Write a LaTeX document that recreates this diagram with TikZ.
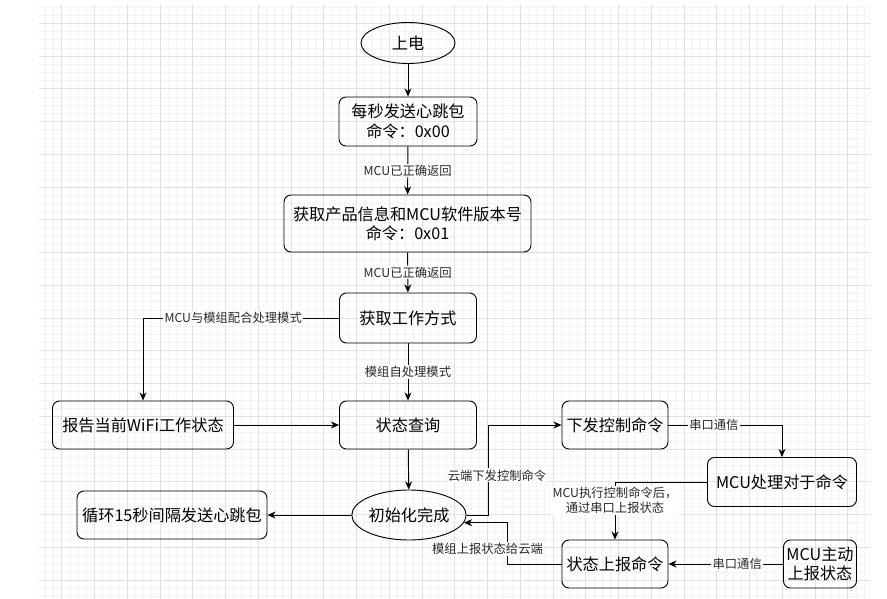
\documentclass[tikz,border=0pt]{standalone}
\usepackage{fontspec}
\setmainfont{Noto Sans CJK SC}
\usetikzlibrary{arrows.meta,calc,shapes.geometric}
\definecolor{GridMajor}{RGB}{224,224,224}
\definecolor{GridMinor}{RGB}{244,244,244}
\definecolor{InkGray}{RGB}{40,40,40}

\tikzset{
  box/.style={draw,rounded corners=6pt,line width=.8pt,align=center,inner sep=1pt,
    font=\fontsize{13.8}{16.5}\selectfont},
  oval/.style={draw,ellipse,line width=.8pt,inner sep=0pt,
    font=\fontsize{13.8}{16.5}\selectfont},
  tag/.style={fill=white,inner sep=1pt,align=center,text=InkGray,
    font=\fontsize{10.5}{12.8}\selectfont},
  flow/.style={line width=.8pt,-{Stealth[length=7pt,width=6pt]}}
}

\begin{document}
\begin{tikzpicture}[x=.03cm,y=-.03cm]
  \fill[white] (0,0) rectangle (887,599);
  \useasboundingbox (0,0) rectangle (887,599);
  % background grid
  \begin{scope}
    \clip (39,5) rectangle (870,599);
    \foreach \i in {0,...,103} \draw[GridMinor,line width=.6pt] ({28.95+8.1875*\i},0) -- ++(0,600);
    \foreach \j in {0,...,75} \draw[GridMinor,line width=.6pt] (0,{-9.45+8.1875*\j}) -- ++(890,0);
    \foreach \i in {0,...,26} \draw[GridMajor,line width=.6pt] ({28.95+32.75*\i},0) -- ++(0,600);
    \foreach \j in {0,...,19} \draw[GridMajor,line width=.6pt] (0,{-9.45+32.75*\j}) -- ++(890,0);
  \end{scope}

  \node[oval,minimum width=2.82cm,minimum height=1.23cm] (power) at (408,43) {上电};
  \node[box,minimum width=4.14cm,minimum height=1.47cm] (beat) at (408,121.5) {每秒发送心跳包\\命令：0x00};
  \node[box,minimum width=7.41cm,minimum height=1.71cm] (info) at (407.5,223.5) {获取产品信息和MCU软件版本号\\命令：0x01};
  \node[box,minimum width=4.11cm,minimum height=1.5cm] (mode) at (408,318) {获取工作方式};
  \node[box,minimum width=4.11cm,minimum height=1.44cm] (query) at (408,425) {状态查询};
  \node[box,minimum width=5.43cm,minimum height=1.44cm] (wifi) at (143,425) {报告当前WiFi工作状态};
  \node[oval,minimum width=2.94cm,minimum height=1.5cm] (init) at (409,515) {初始化完成};
  \node[box,minimum width=5.7cm,minimum height=1.44cm] (loop) at (172,515) {循环15秒间隔发送心跳包};
  \node[box,minimum width=3.18cm,minimum height=1.44cm] (send) at (615,425) {下发控制命令};
  \node[box,minimum width=4.47cm,minimum height=1.47cm] (mcu) at (782,482) {MCU处理对于命令};
  \node[box,minimum width=3.18cm,minimum height=1.44cm] (report) at (615,564) {状态上报命令};
  \node[box,minimum width=2.19cm,minimum height=1.44cm] (active) at (820,564) {MCU主动\\上报状态};
  \coordinate (cloud) at (488,425);

  \draw[flow] (power) -- (beat);
  \draw[flow] (beat) -- node[tag]{MCU已正确返回} (info);
  \draw[flow] (info) -- node[tag]{MCU已正确返回} (mode);
  \draw[flow] (mode.west) -| node[tag,pos=.27]{MCU与模组配合处理模式} (wifi.north);
  \draw[flow] (mode) -- node[tag]{模组自处理模式} (query);
  \draw[flow] (wifi) -- (query);
  \draw[flow] (query) -- (init);
  \draw[flow] (init) -- (loop);
  \draw[flow] (init.east) -| node[tag,pos=.72,xshift=.27cm]{云端下发控制命令} (cloud) -- (send.west);
  \draw[flow] (send.east) -| node[tag,pos=.2]{串口通信} (mcu.north);
  \draw[flow] (mcu.west) -| node[tag,pos=.66]{MCU执行控制命令后，\\通过串口上报状态} (report.north);
  \draw[flow] (active) -- node[tag,pos=.4]{串口通信} (report);
  \draw[flow] (report.west) -- ++(-54,0) |- node[tag,pos=.18,xshift=-.6cm]{模组上报状态给云端} (init.-8);
\end{tikzpicture}
\end{document}
